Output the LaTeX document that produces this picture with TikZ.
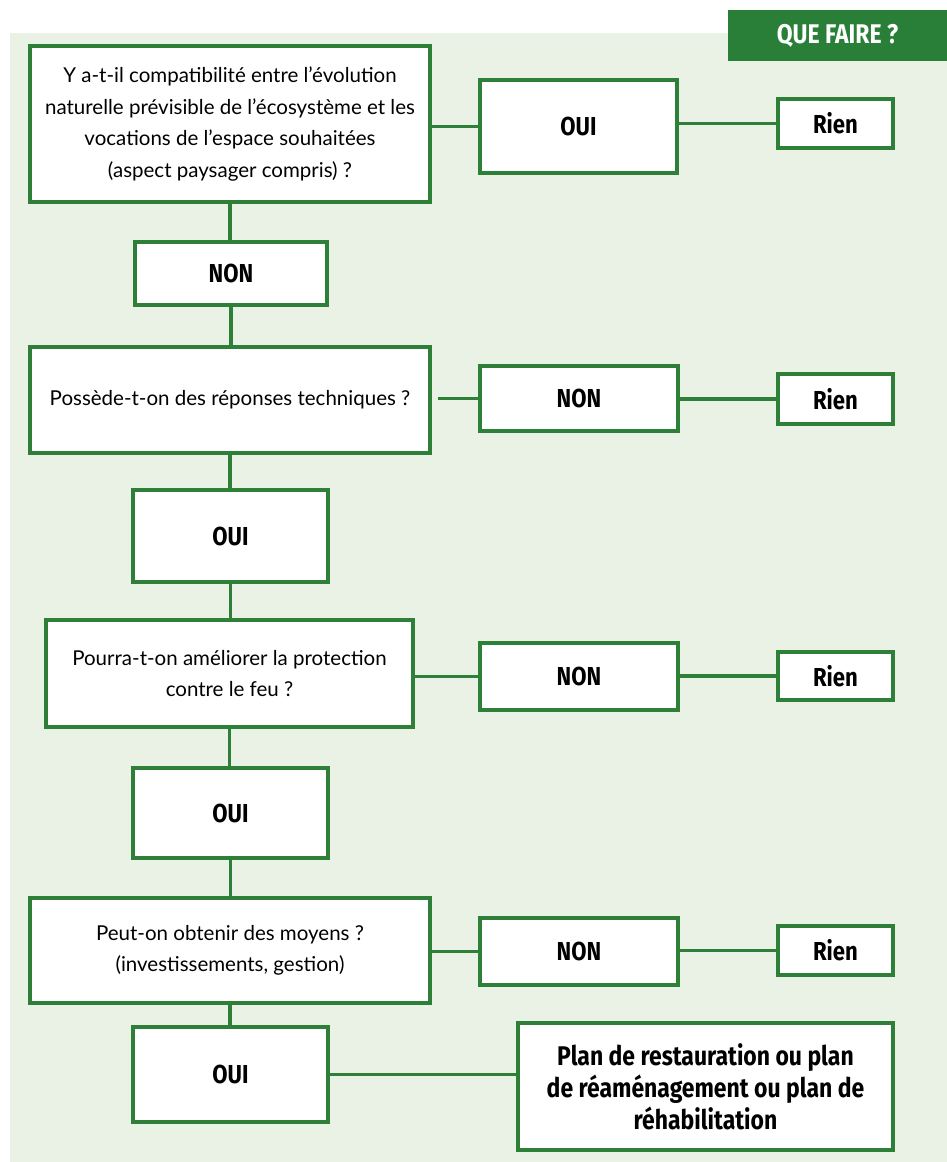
\documentclass[tikz,border=0pt]{standalone}
\usepackage{fontspec}
\setmainfont{Lato}
\newfontfamily\bfc[FakeStretch=0.85]{Fira Sans}
\definecolor{gline}{HTML}{2E8038}
\definecolor{ghead}{HTML}{2A7F38}
\definecolor{gbg}{HTML}{EAF2E5}
\begin{document}
\begin{tikzpicture}[x=1pt,y=-1pt,
  box/.style={draw=gline,line width=3.2pt,fill=white,rectangle,inner sep=0pt,align=center,font=\fontsize{20.5}{31.5}\selectfont},
  ans/.style={box,font=\bfc\bfseries\fontsize{26}{32}\selectfont},
  conn/.style={draw=gline,line width=3.2pt}]
\useasboundingbox (0,0) rectangle (947,1162);
\fill[white] (0,0) rectangle (947,1162);
\fill[gbg] (10,33) rectangle (947,1162);
\node[fill=ghead,minimum width=219pt,minimum height=51pt,inner sep=0pt,text=white,font=\bfc\bfseries\fontsize{27}{30}\selectfont] (hdr) at (837.5,35.5) {QUE FAIRE ?};
% nodes
\node[box,minimum width=400pt,minimum height=156pt] (q1) at (230,124) {Y a-t-il compatibilit\'e entre l'\'evolution\\naturelle pr\'evisible de l'\'ecosyst\`eme et les\\vocations de l'espace souhait\'ees\\(aspect paysager compris) ?};
\node[ans,minimum width=197pt,minimum height=93pt] (y1) at (578.5,126.5) {OUI};
\node[ans,minimum width=115pt,minimum height=49pt] (r1) at (835.5,123.5) {Rien};
\node[ans,minimum width=192pt,minimum height=63pt] (n1) at (231,273.5) {NON};
\node[box,minimum width=400pt,minimum height=106pt] (q2) at (230,400) {Poss\`ede-t-on des r\'eponses techniques ?};
\node[ans,minimum width=198pt,minimum height=65pt] (n2) at (579,398.5) {NON};
\node[ans,minimum width=115pt,minimum height=50pt] (r2) at (835.5,399) {Rien};
\node[ans,minimum width=195pt,minimum height=92pt] (o2) at (230.5,536) {OUI};
\node[box,minimum width=367pt,minimum height=107pt] (q3) at (229.5,673.5) {Pourra-t-on am\'eliorer la protection\\contre le feu ?};
\node[ans,minimum width=198pt,minimum height=67pt] (n3) at (579,676.5) {NON};
\node[ans,minimum width=115pt,minimum height=48pt] (r3) at (835.5,676) {Rien};
\node[ans,minimum width=195pt,minimum height=90pt] (o3) at (230.5,813) {OUI};
\node[box,minimum width=400pt,minimum height=105pt] (q4) at (230,950.5) {Peut-on obtenir des moyens ?\\(investissements, gestion)};
\node[ans,minimum width=198pt,minimum height=67pt] (n4) at (579,951.5) {NON};
\node[ans,minimum width=115pt,minimum height=49pt] (r4) at (835.5,950.5) {Rien};
\node[ans,minimum width=195pt,minimum height=95pt] (o4) at (230.5,1074.5) {OUI};
\node[ans,minimum width=375pt,minimum height=127pt,font=\bfc\bfseries\fontsize{27}{32}\selectfont] (p) at (705.5,1086.5) {Plan de restauration ou plan\\de r\'eam\'enagement ou plan de\\r\'ehabilitation};
% connectors
\draw[conn] (y1.west -| q1.east) -- (y1.west);
\draw[conn] (y1.east |- r1.west) -- (r1.west);
\draw[conn] (q1.south) -- (n1.north -| q1.south);
\draw[conn] (n1.south) -- (n1.south |- q2.north);
\draw[conn] ([xshift=6pt]n2.west -| q2.east) -- (n2.west);
\draw[conn] (n2.east |- r2.west) -- (r2.west);
\draw[conn] (q2.south) -- (q2.south |- o2.north);
\draw[conn] (o2.south) -- (o2.south |- q3.north);
\draw[conn] (n3.west -| q3.east) -- (n3.west);
\draw[conn] (n3.east |- r3.west) -- (r3.west);
\draw[conn] (q3.south) -- (q3.south |- o3.north);
\draw[conn] (o3.south) -- (o3.south |- q4.north);
\draw[conn] (n4.west -| q4.east) -- (n4.west);
\draw[conn] (n4.east |- r4.west) -- (r4.west);
\draw[conn] (q4.south) -- (q4.south |- o4.north);
\draw[conn] (p.west |- o4.east) -- (o4.east);
\end{tikzpicture}
\end{document}
